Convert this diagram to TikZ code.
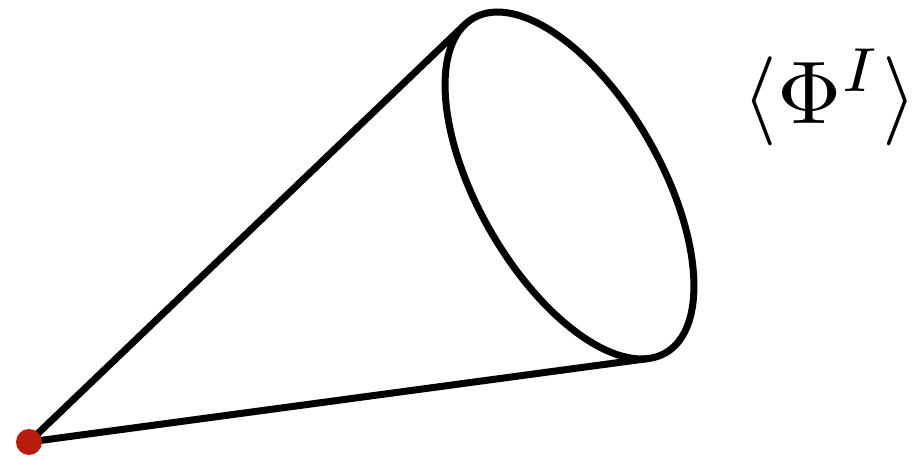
\documentclass[tikz,border=0pt]{standalone}
\usepackage{amsfonts,amsmath,amssymb}
\usepackage{tikz}
\usetikzlibrary{arrows.meta}
\definecolor{conered}{HTML}{B81C0C}
\tikzset{
  every picture/.style={line join=round, line cap=round, >=Stealth},
  conestroke/.style={line width=3.5pt},
  apexdot/.style={circle, fill=conered, inner sep=0pt, minimum size=13pt},
}

\begin{document}
\begin{tikzpicture}[x=0.5pt,y=0.5pt]
\useasboundingbox (0,0) rectangle (922,456);
\coordinate (tip) at (29,14);
% rim of the cone
\begin{scope}[shift={(569.5,270.5)},rotate=-60.15]
  \draw[conestroke] (0,0) ellipse [x radius=193, y radius=91.2];
  \coordinate (rimtop) at (186.7:193 and 91.2);
  \coordinate (rimbot) at (349.1:193 and 91.2);
\end{scope}
% sides
\draw[conestroke] (tip)--(rimtop);
\draw[conestroke] (tip)--(rimbot);
\node[apexdot] (apex) at (tip) {};
\node[anchor=base, inner sep=0pt, scale=4.45, transform shape] (vev) at (830,332) {$\langle\Phi^I\rangle$};
\end{tikzpicture}
\end{document}
